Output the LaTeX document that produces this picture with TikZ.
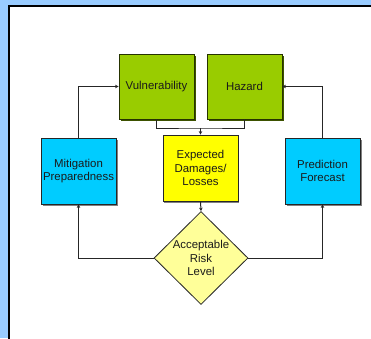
\documentclass[tikz,border=0pt]{standalone}
\usepackage{fontspec}
\setmainfont{Liberation Sans}
\usetikzlibrary{shapes.geometric,arrows.meta}
\definecolor{bgblue}{HTML}{99CCFF}
\definecolor{vgreen}{HTML}{99CC00}
\definecolor{dgreen}{HTML}{556B00}
\definecolor{cyanbox}{HTML}{00CCFF}
\definecolor{ybox}{HTML}{FFFF00}
\definecolor{lybox}{HTML}{FFFF99}
\definecolor{txt}{HTML}{1A1A1A}
\tikzset{
  box/.style={rectangle, draw=black!85, line width=0.8pt, minimum width=75pt, minimum height=65pt,
    inner sep=0pt, align=center, text=txt,
    font=\fontsize{11.4pt}{13.7pt}\selectfont},
  greenbox/.style={box, fill=vgreen, draw=black!75!vgreen},
  cyanb/.style={box, fill=cyanbox, minimum height=66pt},
  yellowb/.style={box, fill=ybox, minimum height=66pt},
  riskdia/.style={diamond, draw=black!85, fill=lybox, line width=0.8pt, minimum width=94pt, minimum height=93pt,
    inner sep=0pt, align=center, text=txt, font=\fontsize{11.4pt}{13.7pt}\selectfont},
  conn/.style={draw=black!85, line width=1pt},
  arr/.style={conn, -{Stealth[length=3.5pt,width=3.5pt]}}
}
\begin{document}
\begin{tikzpicture}[x=1pt,y=-1pt]
\useasboundingbox (0,0) rectangle (371,338);
\fill[bgblue] (0,0) rectangle (371,338);
\filldraw[fill=white, draw=black, line width=2.4pt] (9.2,6.2) rectangle (390,360);

% shadows
\fill[black!60!vgreen] (120.5,55.5) rectangle (195.5,120.5);
\fill[black!60!vgreen] (208.5,55.5) rectangle (283.5,120.5);
\fill[black!50] (42.5,139.5) rectangle (117.5,205.5);
\fill[black!50] (164,136.5) rectangle (239,202.5);
\fill[black!50] (286.5,139.5) rectangle (361.5,205.5);

\node[greenbox] (vul) at (156.5,86.5) {Vulnerability};
\node[greenbox] (haz) at (244.5,86.5) {Hazard};
\node[yellowb] (dam) at (200.5,168) {Expected\\Damages/\\Losses};
\node[cyanb] (mit) at (78.5,171) {Mitigation\\Preparedness};
\node[cyanb] (pred) at (322.5,171) {Prediction\\Forecast};
\node[riskdia] (risk) at (201,258) {Acceptable\\Risk\\Level};

\coordinate (j) at (dam.north |- 0,128);
\draw[conn] (vul.south) |- (j) -| (haz.south);
\draw[arr] (j) -- (dam.north);
\draw[arr] (mit.north) |- (vul.west);
\draw[arr] (pred.north) |- (haz.east);
\draw[arr] (dam.south) -- (risk.north);
\draw[arr] (risk.west) -| (mit.south);
\draw[arr] (risk.east) -| (pred.south);
\end{tikzpicture}
\end{document}
